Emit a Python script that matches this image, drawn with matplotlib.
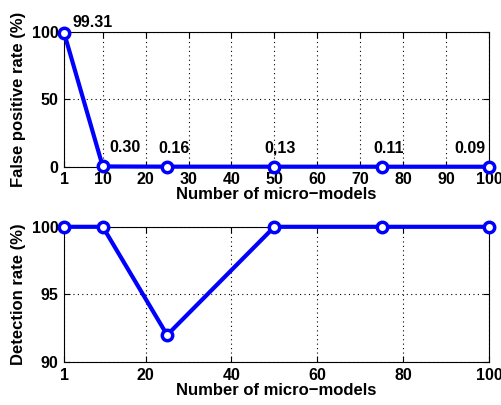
import matplotlib
matplotlib.use("Agg")
import matplotlib.pyplot as plt

models = [1, 10, 25, 50, 75, 100]
fpr = [99.31, 0.30, 0.16, 0.13, 0.11, 0.09]
fpr_labels = ["99.31", "0.30", "0.16", "0,13", "0.11", "0.09"]
det = [100, 100, 92, 100, 100, 100]
top_xticks = [1, 10, 20, 30, 40, 50, 60, 70, 80, 90, 100]
bot_xticks = [1, 20, 40, 60, 80, 100]

plt.rcParams['font.family'] = ['Liberation Sans', 'DejaVu Sans']
plt.rcParams['font.weight'] = 'bold'

fig = plt.figure(figsize=(5.01, 4.05), dpi=100)
ax1 = fig.add_axes([0.128, 0.588, 0.848, 0.333])
ax2 = fig.add_axes([0.128, 0.106, 0.848, 0.334])

blue = '#0000ff'
for ax in (ax1, ax2):
    ax.grid(True, linestyle=(0, (1, 3)), color='black', linewidth=0.8)
    ax.tick_params(direction='in', top=True, right=True, labelsize=11.5, length=4, pad=4)
    for s in ax.spines.values():
        s.set_linewidth(0.8)

ax1.plot(models, fpr, color=blue, linewidth=3, marker='o', markersize=7.5,
         markerfacecolor='white', markeredgecolor=blue, markeredgewidth=2.5, clip_on=False, zorder=5)
ax1.set_xlim(1, 100)
ax1.set_ylim(0, 100)
ax1.set_xticks(top_xticks)
ax1.set_yticks([0, 50, 100])
ax1.set_xlabel('Number of micro\u2212models', fontsize=12, fontweight='bold', labelpad=0)
ax1.set_ylabel('False positive rate (%)', fontsize=12, fontweight='bold')
offsets = [(6, 2), (5, 8), (-6, 8), (-7, 8), (-6, 8), (-25, 8)]
for x, y, t, off in zip(models, fpr, fpr_labels, offsets):
    ax1.annotate(t, (x, y), xytext=off, textcoords='offset points', fontsize=11.5,
                 fontweight='bold', ha='left', va='bottom', zorder=6)

ax2.plot(models, det, color=blue, linewidth=3, marker='o', markersize=7.5,
         markerfacecolor='white', markeredgecolor=blue, markeredgewidth=2.5, clip_on=False, zorder=5)
ax2.set_xlim(1, 100)
ax2.set_ylim(90, 100)
ax2.set_xticks(bot_xticks)
ax2.set_yticks([90, 95, 100])
ax2.set_xlabel('Number of micro\u2212models', fontsize=12, fontweight='bold', labelpad=0)
ax2.set_ylabel('Detection rate (%)', fontsize=12, fontweight='bold')

for ax in (ax1, ax2):
    for lab in ax.get_xticklabels() + ax.get_yticklabels():
        lab.set_fontweight('bold')

fig.savefig('out.png', dpi=100)
